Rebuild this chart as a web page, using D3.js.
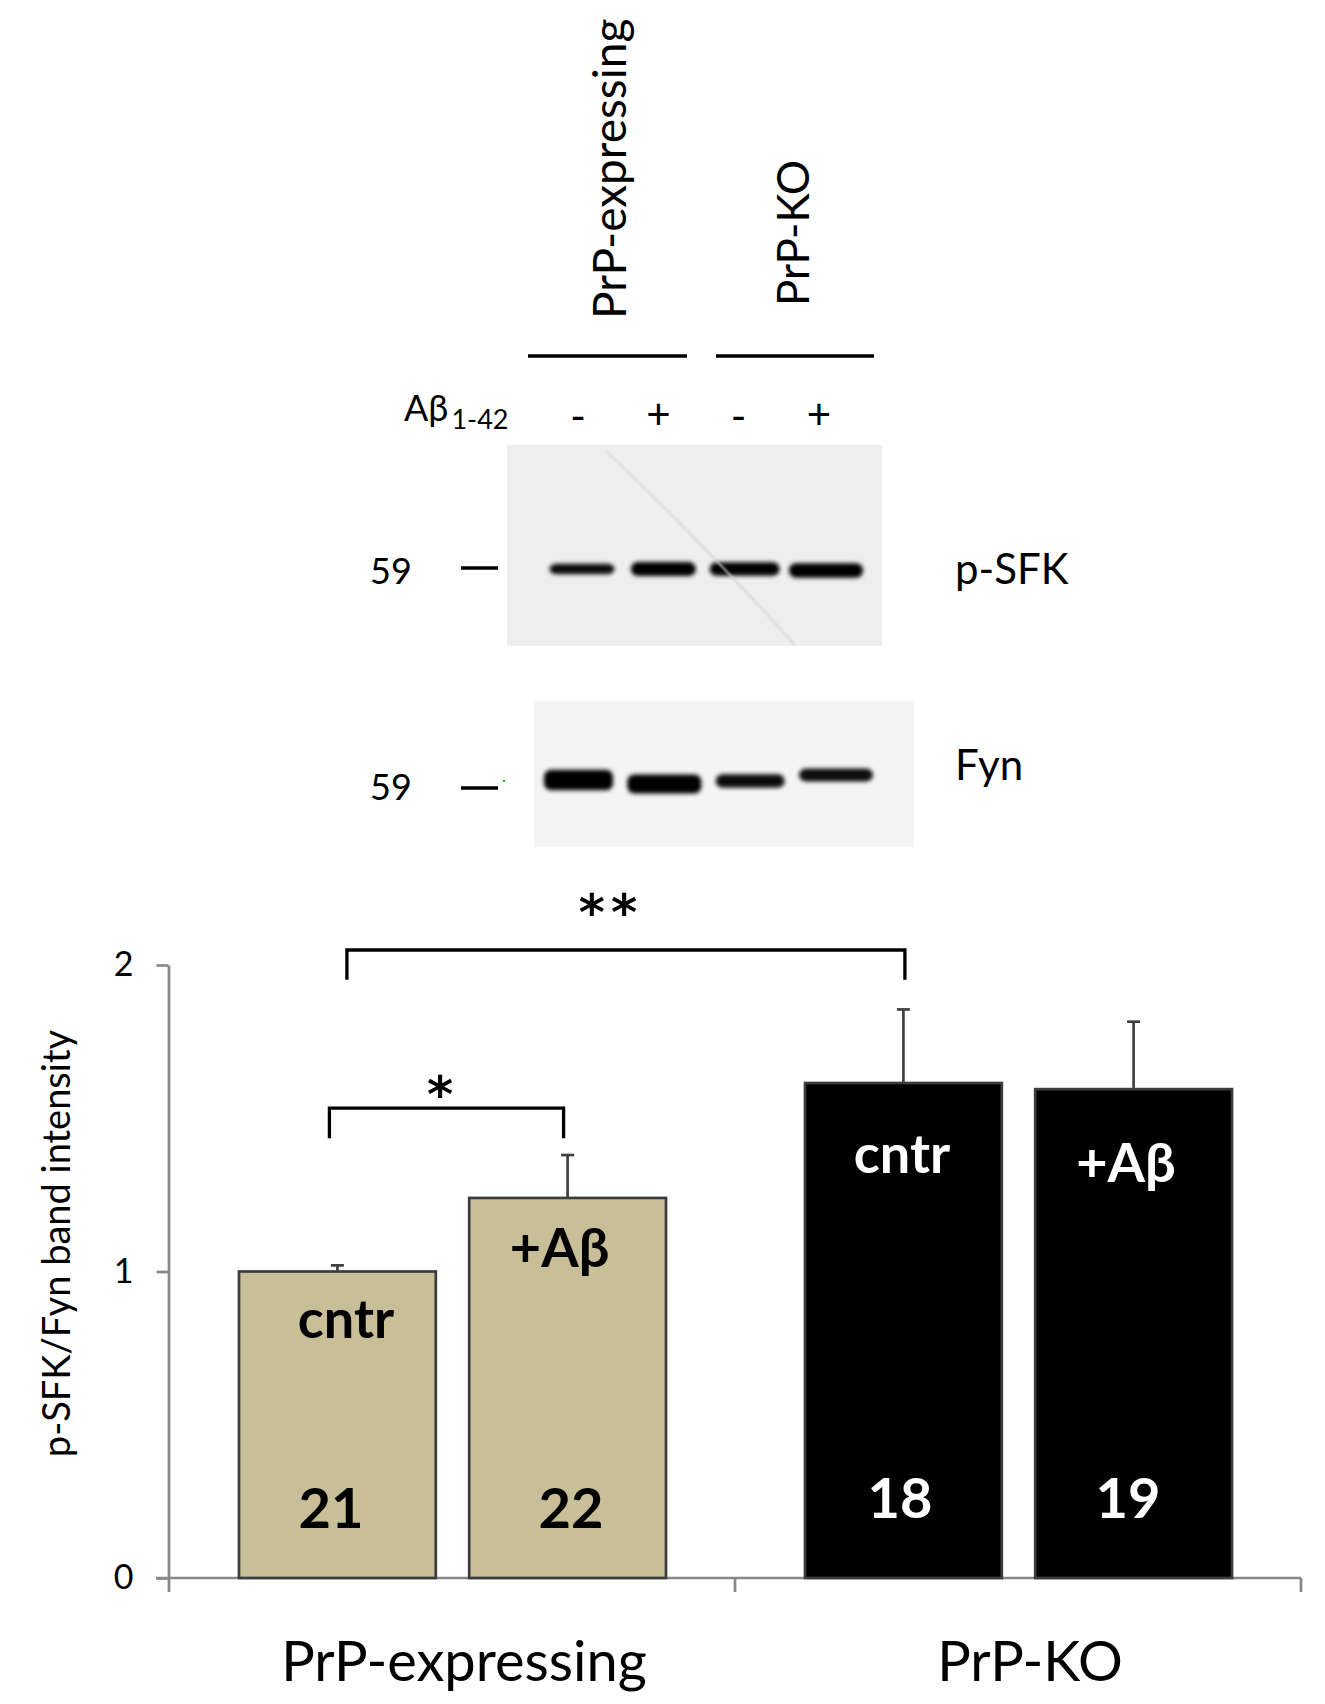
<!DOCTYPE html>
<html><head><meta charset="utf-8">
<script src="https://cdn.jsdelivr.net/npm/d3@7"></script>
<style>html,body{margin:0;padding:0;background:#fff;} svg{display:block;}</style>
</head><body>
<script>
// ---------------- DATA ----------------
const groups = ["PrP-expressing", "PrP-KO"];
const conditions = ["cntr", "+Aβ"];
const meanPrP = [1.00, 1.24];
const meanKO = [1.615, 1.595];
const semPrP = [0.02, 0.14];
const semKO = [0.24, 0.22];
const nPrP = [21, 22];
const nKO = [18, 19];
const yTicks = [0, 1, 2];
const yLabel = "p-SFK/Fyn band intensity";
const laneTreatment = ["-", "+", "-", "+"];
const pSFKBand = [0.75, 1.0, 0.95, 1.05];   // relative band thickness
const fynBand = [1.15, 1.05, 0.75, 0.72];
const sigLabels = ["*", "**"];
const markerKDa = ["59", "59"];
const blotNames = ["p-SFK", "Fyn"];

// ---------------- LAYOUT / STYLE ----------------
const W = 1325, H = 1704;
const FONT = "Lato, 'Open Sans', 'DejaVu Sans', sans-serif";
const TAN = "#c8bf99", DARK = "#000000", EDGE = "#3c3c3c", AXIS = "#888888";

const svg = d3.select("body").append("svg").attr("width", W).attr("height", H)
  .style("font-family", FONT);

const defs = svg.append("defs");
defs.append("filter").attr("id", "blur").attr("x", "-20%").attr("y", "-100%").attr("width", "140%").attr("height", "300%")
  .append("feGaussianBlur").attr("stdDeviation", 2.0);
defs.append("filter").attr("id", "blur2")
  .append("feGaussianBlur").attr("stdDeviation", 1.3);

// table built from arrays
const rows = [];
groups.forEach((g, gi) => {
  conditions.forEach((c, ci) => {
    rows.push({
      group: g, cond: c, gi, ci,
      mean: gi === 0 ? meanPrP[ci] : meanKO[ci],
      sem: gi === 0 ? semPrP[ci] : semKO[ci],
      n: gi === 0 ? nPrP[ci] : nKO[ci]
    });
  });
});

// scales
const x0 = d3.scaleBand().domain(groups).range([169, 1301]);
const x1 = d3.scaleBand().domain(conditions).range([70, 497]).paddingInner(0.145);
const y = d3.scaleLinear().domain([0, 2]).range([1578, 965]);
const cx = d => x0(d.group) + x1(d.cond) + x1.bandwidth() / 2;

// ---------------- BAR CHART ----------------
const chart = svg.append("g");

// y axis
const yAxis = chart.append("g").attr("transform", "translate(168.5,0)")
  .call(d3.axisLeft(y).tickValues(yTicks).tickFormat(d3.format("d")).tickSize(12).tickSizeOuter(0).tickPadding(23));
yAxis.select(".domain").attr("stroke", AXIS).attr("stroke-width", 2.7);
yAxis.selectAll(".tick line").attr("stroke", AXIS).attr("stroke-width", 2.7);
yAxis.selectAll(".tick text").attr("font-size", 34).attr("font-family", FONT).attr("fill", "#000");

// x axis
const xAxis = chart.append("g").attr("transform", `translate(0,${y(0)})`)
  .call(d3.axisBottom(x0).tickSize(0).tickPadding(63));
xAxis.select(".domain").remove();
xAxis.selectAll(".tick text").attr("font-size", 56).attr("font-family", FONT).attr("fill", "#000")
  .attr("x", 12);
xAxis.append("line").attr("x1", 156).attr("x2", x0.range()[1]).attr("y1", 0).attr("y2", 0)
  .attr("stroke", AXIS).attr("stroke-width", 2.7);
const bounds = groups.map(g => x0(g)).concat([x0.range()[1]]);
xAxis.selectAll("line.bt").data(bounds).join("line").attr("class", "bt")
  .attr("x1", d => d).attr("x2", d => d).attr("y1", 0).attr("y2", 14)
  .attr("stroke", AXIS).attr("stroke-width", 2.7);

// error bars (upper only)
chart.selectAll("line.err").data(rows).join("line").attr("class", "err")
  .attr("x1", cx).attr("x2", cx).attr("y1", d => y(d.mean)).attr("y2", d => y(d.mean + d.sem))
  .attr("stroke", "#404040").attr("stroke-width", 2.7);
chart.selectAll("line.cap").data(rows).join("line").attr("class", "cap")
  .attr("x1", d => cx(d) - 6.5).attr("x2", d => cx(d) + 6.5)
  .attr("y1", d => y(d.mean + d.sem)).attr("y2", d => y(d.mean + d.sem))
  .attr("stroke", "#404040").attr("stroke-width", 2.7);

// bars
chart.selectAll("rect.bar").data(rows).join("rect").attr("class", "bar")
  .attr("x", d => x0(d.group) + x1(d.cond)).attr("width", x1.bandwidth())
  .attr("y", d => y(d.mean)).attr("height", d => y(0) - y(d.mean))
  .attr("fill", d => d.gi === 0 ? TAN : DARK)
  .attr("stroke", EDGE).attr("stroke-width", 2.7);

// in-bar labels (positions in value units, layout only)
const condLabelY = [0.783, 1.015, 1.321, 1.292];
const condLabelDx = [8.6, -8, -1.4, -7.6];
const nLabelY = [0.163, 0.163, 0.196, 0.196];
const nLabelDx = [-6.4, 3.4, -3.4, -5.6];
chart.selectAll("text.cond").data(rows).join("text").attr("class", "cond")
  .attr("x", (d, i) => cx(d) + condLabelDx[i]).attr("y", (d, i) => y(condLabelY[i]))
  .attr("text-anchor", "middle").attr("font-size", 54).attr("font-weight", 700)
  .attr("fill", d => d.gi === 0 ? "#000" : "#fff").text(d => d.cond);
chart.selectAll("text.n").data(rows).join("text").attr("class", "n")
  .attr("x", (d, i) => cx(d) + nLabelDx[i]).attr("y", (d, i) => y(nLabelY[i]))
  .attr("text-anchor", "middle").attr("font-size", 56).attr("font-weight", 700)
  .attr("fill", d => d.gi === 0 ? "#000" : "#fff").text(d => d.n);

// y label
chart.append("text").attr("transform", `translate(69.5,${(y(0)+y(2))/2 - 28}) rotate(-90)`)
  .attr("text-anchor", "middle").attr("font-size", 38).text(yLabel);

// significance brackets
const brackets = [
  { a: rows[0], b: rows[1], label: sigLabels[0], level: 1.533, leg: 1.435, dxa: -8, dxb: -4, labelDx: -6.5, baseOff: 4 },
  { a: rows[0], b: rows[2], label: sigLabels[1], level: 2.049, leg: 1.952, dxa: 9.5, dxb: 1.5, labelDx: -15, baseOff: -20 }
];
const br = chart.selectAll("g.br").data(brackets).join("g").attr("class", "br");
br.append("path")
  .attr("d", d => {
    const xa = cx(d.a) + d.dxa, xb = cx(d.b) + d.dxb;
    return `M${xa},${y(d.leg)}V${y(d.level)}H${xb}V${y(d.leg)}`;
  })
  .attr("fill", "none").attr("stroke", "#000").attr("stroke-width", 3.3);
br.append("text")
  .attr("x", d => (cx(d.a) + d.dxa + cx(d.b) + d.dxb) / 2 + d.labelDx)
  .attr("y", d => y(d.level) + d.baseOff)
  .attr("text-anchor", "middle").attr("font-size", 50).attr("font-weight", 700)
  .attr("font-family", "'DejaVu Sans', sans-serif")
  .attr("letter-spacing", d => d.label.length > 1 ? 6 : 0)
  .text(d => d.label);

// ---------------- BLOT PANEL ----------------
const topG = svg.append("g");

// rotated group headers
const headers = [
  { text: groups[0], x: 625.5, y: 319, size: 46 },
  { text: groups[1], x: 809, y: 306, size: 44 }
];
topG.selectAll("text.hdr").data(headers).join("text").attr("class", "hdr")
  .attr("transform", d => `translate(${d.x},${d.y}) rotate(-90)`)
  .attr("font-size", d => d.size).attr("text-anchor", "start").text(d => d.text);
// header lines
topG.selectAll("line.hl").data([[528, 687], [716, 874]]).join("line").attr("class", "hl")
  .attr("x1", d => d[0]).attr("x2", d => d[1]).attr("y1", 356).attr("y2", 356)
  .attr("stroke", "#000").attr("stroke-width", 3.6);

// Aβ1-42 label
const ab = topG.append("text").attr("x", 404).attr("y", 421).attr("font-size", 36);
ab.append("tspan").text("Aβ");
ab.append("tspan").attr("font-size", 27).attr("dy", 8).attr("dx", 3).text("1-42");

const laneHdr = d3.scalePoint().domain(d3.range(4)).range([578, 819]);
topG.selectAll("text.tr").data(laneTreatment).join("text").attr("class", "tr")
  .attr("x", (d, i) => laneHdr(i)).attr("y", (d) => d === "+" ? 429 : 431)
  .attr("text-anchor", "middle").attr("font-size", 42).text(d => d);

// blots
const blots = [
  { name: blotNames[0], kda: markerKDa[0], x: 507, y: 445, w: 375, h: 201, bg: "#eeeeee",
    lanes: d3.scalePoint().domain(d3.range(4)).range([582, 826]), bandY: [569, 569, 569, 570.5],
    bandW: [65, 65, 70, 74], strength: pSFKBand, base: 14, markY: 568, kdaY: 584, nameY: 584 },
  { name: blotNames[1], kda: markerKDa[1], x: 534, y: 701, w: 380, h: 146, bg: "#f4f4f4",
    lanes: d3.scalePoint().domain(d3.range(4)).range([578.5, 836]), bandY: [780, 784, 781, 775],
    bandW: [69, 74, 69, 74], strength: fynBand, base: 18, markY: 788, kdaY: 800, nameY: 780 }
];
blots.forEach(b => {
  const g = topG.append("g");
  g.append("rect").attr("x", b.x).attr("y", b.y).attr("width", b.w).attr("height", b.h).attr("fill", b.bg);
  g.selectAll("rect.band").data(b.strength).join("rect").attr("class", "band")
    .attr("x", (d, i) => b.lanes(i) - b.bandW[i] / 2).attr("width", (d, i) => b.bandW[i])
    .attr("y", (d, i) => b.bandY[i] - d * b.base / 2).attr("height", d => d * b.base)
    .attr("rx", 7).attr("fill", "#050505").attr("opacity", d => Math.min(1, 0.8 + d * 0.2))
    .attr("filter", "url(#blur)");
  g.append("line").attr("x1", 461).attr("x2", 498).attr("y1", b.markY).attr("y2", b.markY)
    .attr("stroke", "#000").attr("stroke-width", 3.3);
  g.append("text").attr("x", 370).attr("y", b.kdaY).attr("font-size", 36).text(b.kda);
  g.append("text").attr("x", 955).attr("y", b.nameY).attr("font-size", 42).text(b.name);
});
// faint scratch on p-SFK blot and edge mark
topG.append("path").attr("d", "M605,450 Q700,540 795,645")
  .attr("fill", "none").attr("stroke", "#d2d2d2").attr("stroke-width", 1.6).attr("filter", "url(#blur2)");
topG.append("line").attr("x1", 880.5).attr("y1", 556).attr("x2", 880.5).attr("y2", 568)
  .attr("stroke", "#888").attr("stroke-width", 2).attr("filter", "url(#blur2)");
topG.append("rect").attr("x", 503).attr("y", 780).attr("width", 2).attr("height", 2).attr("fill", "#1a9a1a");
</script>
</body></html>
